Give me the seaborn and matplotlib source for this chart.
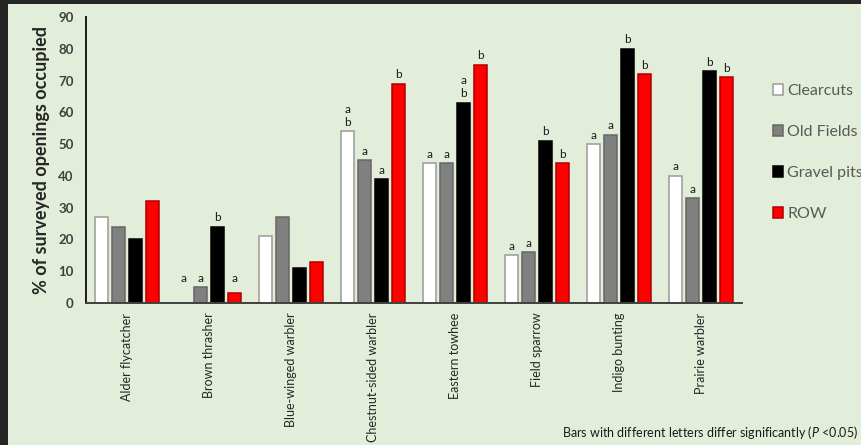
import numpy as np
import pandas as pd
import matplotlib
matplotlib.use("Agg")
import matplotlib.pyplot as plt
from matplotlib.patches import Rectangle, Patch
import seaborn as sns

# Percent of surveyed openings occupied, by species and habitat type
species = ["Alder flycatcher", "Brown thrasher", "Blue-winged warbler",
           "Chestnut-sided warbler", "Eastern towhee", "Field sparrow",
           "Indigo bunting", "Prairie warbler"]
habitats = ["Clearcuts", "Old Fields", "Gravel pits", "ROW"]
clearcuts = [27, 0, 21, 54, 44, 15, 50, 40]
old_fields = [24, 5, 27, 45, 44, 16, 53, 33]
gravel_pits = [20, 24, 11, 39, 63, 51, 80, 73]
row = [32, 3, 13, 69, 75, 44, 72, 71]

# Significance letters shown above each bar
letters_clearcuts = ["", "a", "", "a\nb", "a", "a", "a", "a"]
letters_old_fields = ["", "a", "", "a", "a", "a", "a", "a"]
letters_gravel_pits = ["", "b", "", "a", "a\nb", "b", "b", "b"]
letters_row = ["", "a", "", "b", "b", "b", "b", "b"]

y_ticks = [0, 10, 20, 30, 40, 50, 60, 70, 80, 90]

fill_colors = ["#FFFFFF", "#808080", "#000000", "#FF0000"]
edge_colors = ["#9A9A9A", "#666666", "#000000", "#B00000"]
bg = "#E2EED9"

sns.set_theme(style="white")
plt.rcParams["font.family"] = ["Lato", "DejaVu Sans"]
plt.rcParams["mathtext.fontset"] = "custom"
plt.rcParams["mathtext.it"] = "Lato:italic"
plt.rcParams["mathtext.rm"] = "Lato"

df = pd.DataFrame({"species": species, "Clearcuts": clearcuts,
                   "Old Fields": old_fields, "Gravel pits": gravel_pits,
                   "ROW": row})
long = df.melt(id_vars="species", var_name="habitat", value_name="pct")

fig = plt.figure(figsize=(8.62, 4.45), dpi=100, facecolor=bg)
ax = fig.add_axes([86 / 862, 1 - 303 / 445, (742 - 86) / 862, (303 - 17) / 445])
ax.set_facecolor(bg)

sns.barplot(data=long, x="species", y="pct", hue="habitat", hue_order=habitats,
            order=species, palette=fill_colors, saturation=1, width=0.83,
            gap=0.22, linewidth=1.1, legend=False, ax=ax)

letter_sets = [letters_clearcuts, letters_old_fields, letters_gravel_pits, letters_row]
for container, ec, labels in zip(ax.containers, edge_colors, letter_sets):
    for bar, lab in zip(container, labels):
        bar.set_edgecolor(ec)
        if lab:
            x = bar.get_x() + bar.get_width() / 2
            y = max(bar.get_height(), 5)
            ax.annotate(lab, (x, y), xytext=(0, 2.5), textcoords="offset points",
                        ha="center", va="bottom", fontsize=8.5, color="#1A1A1A",
                        linespacing=1.25)

ax.set_ylim(0, 90)
ax.set_xlim(-0.5, len(species) - 0.5)
ax.set_yticks(y_ticks)
ax.set_yticklabels([str(t) for t in y_ticks], fontsize=9.5, fontweight="bold",
                   color="#404040")
ax.set_xticks(range(len(species)))
ax.set_xticklabels(species, rotation=90, fontsize=9, color="#262626",
                   va="top", ha="center")
ax.tick_params(axis="y", length=0, pad=9)
ax.tick_params(axis="x", length=0, pad=7)
ax.set_xlabel("")
ax.set_ylabel("% of surveyed openings occupied", fontsize=13, fontweight="bold",
              color="#262626", labelpad=6)

for side in ["top", "right"]:
    ax.spines[side].set_visible(False)
ax.spines["left"].set_color("#1A1A1A")
ax.spines["bottom"].set_color("#404040")
ax.spines["left"].set_linewidth(1.4)
ax.spines["bottom"].set_linewidth(1.4)

handles = [Patch(facecolor=fc, edgecolor=ec, linewidth=1.1)
           for fc, ec in zip(fill_colors, edge_colors)]
fig.legend(handles, habitats, loc="upper left", bbox_to_anchor=(0.889, 0.826),
           frameon=False, fontsize=11.5, labelcolor="#595959",
           handlelength=0.65, handleheight=0.65, handletextpad=0.25,
           labelspacing=1.7, borderaxespad=0)

fig.text(0.996, 0.028, r"Bars with different letters differ significantly ($\it{P}$ <0.05)",
         ha="right", va="center", fontsize=9, color="#1A1A1A")

# Dark frame strips along the top and left edges
fig.patches.append(Rectangle((0, 1 - 4 / 445), 1, 4 / 445, transform=fig.transFigure,
                             facecolor="#262626", edgecolor="none", zorder=10))
fig.patches.append(Rectangle((0, 0), 8 / 862, 1, transform=fig.transFigure,
                             facecolor="#262626", edgecolor="none", zorder=10))

fig.savefig("out.png", dpi=100, facecolor=bg)
